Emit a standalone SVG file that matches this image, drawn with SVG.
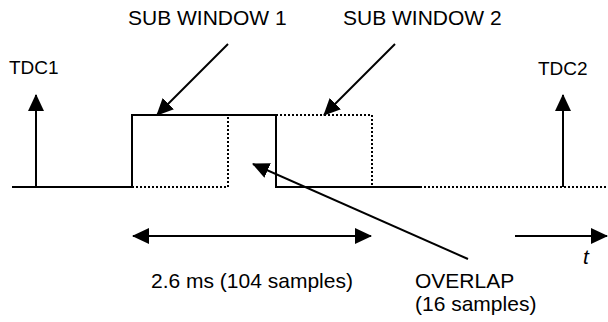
<svg xmlns="http://www.w3.org/2000/svg" width="608" height="322" viewBox="0 0 608 322">
<style>
.t{font-family:"Liberation Sans",Arial,sans-serif;font-size:21px;fill:#000}
.s{fill:none;stroke:#000;stroke-width:2}
.d{fill:none;stroke:#000;stroke-width:2;stroke-dasharray:2 2}
.a{fill:none;stroke:#000;stroke-width:2}
</style>
<defs>
<marker id="ah" markerUnits="userSpaceOnUse" markerWidth="18" markerHeight="18" viewBox="0 0 18 18" refX="16" refY="9" orient="auto-start-reverse">
<path d="M0,1 L17,9 L0,17 Z" fill="#000"/>
</marker>
</defs>
<g id="signal">
<path class="s" d="M12,187 H132 V115 H276 V187 H420"/>
<path class="d" d="M132,187 H228 V115 H372 V187"/>
<path class="d" d="M420,187 H608"/>
</g>
<g id="tdc1">
<line class="a" x1="36" y1="187" x2="36" y2="95" marker-end="url(#ah)"/>
<text class="t" x="9" y="74" style="font-size:19px">TDC1</text>
</g>
<g id="tdc2">
<line class="a" x1="563" y1="187" x2="563" y2="95" marker-end="url(#ah)"/>
<text class="t" x="538" y="75" style="font-size:19px">TDC2</text>
</g>
<g id="sub1">
<text class="t" x="128" y="25">SUB WINDOW 1</text>
</g>
<g id="sub2">
<text class="t" x="343" y="25">SUB WINDOW 2</text>
</g>
<g id="duration">
<text class="t" x="151" y="288">2.6 ms (104 samples)</text>
</g>
<g id="overlap">
<text class="t" x="415" y="288">OVERLAP</text>
<text class="t" x="415" y="311">(16 samples)</text>
</g>
<g id="time">
<text class="t" x="583" y="264" style="font-style:italic">t</text>
</g>
<g id="connectors">
<line class="a" x1="228" y1="44" x2="157" y2="115" marker-end="url(#ah)"/>
<line class="a" x1="395" y1="44" x2="324" y2="115" marker-end="url(#ah)"/>
<line class="a" x1="468" y1="259" x2="253" y2="164" marker-end="url(#ah)"/>
<line class="a" x1="133" y1="236" x2="371" y2="236" marker-start="url(#ah)" marker-end="url(#ah)"/>
<line class="a" x1="515" y1="236" x2="607" y2="236" marker-end="url(#ah)"/>
</g>
</svg>
